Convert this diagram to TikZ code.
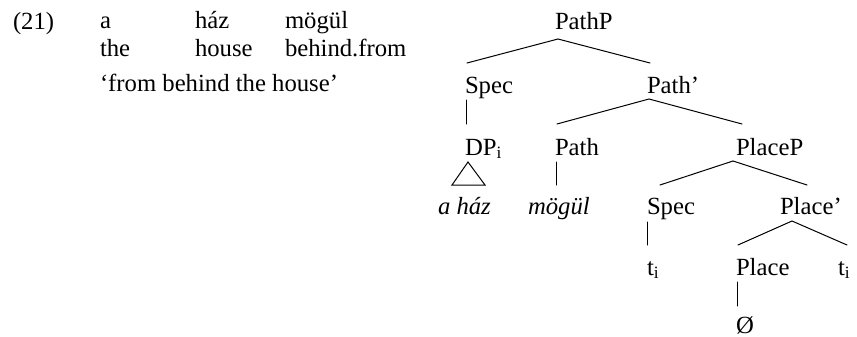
\documentclass[tikz,border=0pt]{standalone}
\usepackage{fontspec}
\setmainfont{Liberation Serif}
\usetikzlibrary{calc}
\tikzset{
  lab/.style={anchor=base west, inner sep=0pt, outer sep=0pt, font=\fontsize{24.7}{29}\selectfont},
  edge/.style={line width=1pt, line cap=round}
}
\begin{document}
\begin{tikzpicture}[x=1pt, y=-1pt]
\useasboundingbox (0,0) rectangle (857,337);
% example text
\node[lab] (num) at (13,30) {(21)};
\node[lab] (w1) at (100,29) {a};
\node[lab] (w2) at (195,29) {ház};
\node[lab] (w3) at (285,29) {mögül};
\node[lab] (g1) at (100,57) {the};
\node[lab] (g2) at (195,57) {house};
\node[lab] (g3) at (285,57) {behind.from};
\node[lab] (tr) at (100,92) {‘from behind the house’};
% tree
\node[lab] (PathP) at (555,30) {PathP};
\node[lab] (Spec) at (465,93) {Spec};
\node[lab] (Pathbar) at (647,93) {Path’};
\node[lab] (DP) at (465,155) {DP\textsubscript{i}};
\node[lab] (Path) at (555,155) {Path};
\node[lab] (PlaceP) at (736,155) {PlaceP};
\node[lab] (ahaz) at (438,214) {\itshape a ház};
\node[lab] (mogul) at (528,214) {\itshape mögül};
\node[lab] (SpecB) at (647,214) {Spec};
\node[lab] (Placebar) at (780,214) {Place’};
\node[lab] (tA) at (647,275) {t\textsubscript{i}};
\node[lab] (Place) at (736,275) {Place};
\node[lab] (tB) at (838,275) {t\textsubscript{i}};
\node[lab] (empty) at (736,333) {Ø};
% edges
\draw[edge] ($(Spec.base west)+(2,-30)$) -- ($(PathP.base west)+(3,9)$) -- ($(Pathbar.base west)+(3,-30)$);
\draw[edge] ($(Spec.base west)+(1,7)$) -- ($(DP.base west)+(1,-31)$);
\draw[edge] ($(Path.base west)+(2,-31)$) -- ($(Pathbar.base west)+(2,6)$) -- ($(PlaceP.base west)+(6,-31)$);
\draw[edge] ($(DP.base west)+(3,7)$) -- ($(ahaz.base west)+(14,-29)$) -- ($(ahaz.base west)+(47,-29)$) -- cycle;
\draw[edge] ($(Path.base west)+(1,7)$) -- ($(Path.base west |- mogul.base)+(1,-29)$);
\draw[edge] ($(SpecB.base west)+(13,-29)$) -- ($(PlaceP.base west)+(-3,6)$) -- ($(Placebar.base west)+(27,-29)$);
\draw[edge] ($(SpecB.base west)+(0,8)$) -- ($(tA.base west)+(0,-30)$);
\draw[edge] ($(Place.base west)+(2,-30)$) -- ($(Placebar.base west)+(12,7)$) -- ($(tB.base west)+(9,-30)$);
\draw[edge] ($(Place.base west)+(1,7)$) -- ($(empty.base west)+(1,-27)$);
\end{tikzpicture}
\end{document}
